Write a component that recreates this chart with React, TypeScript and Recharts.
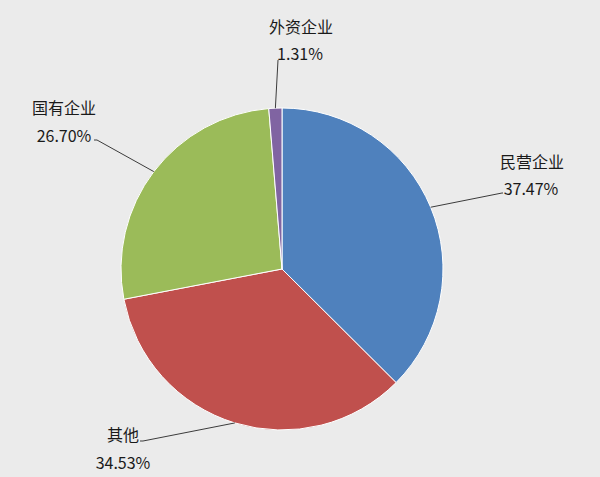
import { PieChart, Pie, Cell } from 'recharts';

document.body.style.margin = '0';

const names = ['民营企业', '其他', '国有企业', '外资企业'];
const shares = [37.47, 34.53, 26.7, 1.31];
const colors = ['#4F81BD', '#C0504D', '#9BBB59', '#8064A2'];

const data = names.map((name, i) => ({ name, value: shares[i] }));

// where Excel put each label: text centres and the bend of the leader line
const labelLayout = [
  { nameAt: [532, 161], pctAt: [531, 188], bend: [[503, 193], [502, 193]] },
  { nameAt: [123, 434], pctAt: [123, 462], bend: [[140, 441], [143, 441]] },
  { nameAt: [64, 107], pctAt: [64, 135], bend: [[94, 140], [97, 140]] },
  { nameAt: [301, 26], pctAt: [300, 53], bend: [[278, 60], [278, 60]] },
];

const RAD = Math.PI / 180;

function renderLabel(props: any) {
  const { cx, cy, midAngle, outerRadius, index } = props;
  const layout = labelLayout[index];
  const sx = cx + outerRadius * Math.cos(-midAngle * RAD);
  const sy = cy + outerRadius * Math.sin(-midAngle * RAD);
  const pts = [[sx, sy], layout.bend[1], layout.bend[0]]
    .map((p) => p.join(','))
    .join(' ');
  return (
    <g key={`label-${index}`}>
      <polyline points={pts} fill="none" stroke="#3c3c3c" strokeWidth={1} />
      <text
        x={layout.nameAt[0]}
        y={layout.nameAt[1]}
        textAnchor="middle"
        dominantBaseline="central"
        fill="#1a1a1a"
        fontSize={16}
      >
        {names[index]}
      </text>
      <text
        x={layout.pctAt[0]}
        y={layout.pctAt[1]}
        textAnchor="middle"
        dominantBaseline="central"
        fill="#1a1a1a"
        fontSize={16}
      >
        {shares[index].toFixed(2)}%
      </text>
    </g>
  );
}

export default function App() {
  return (
    <div style={{ width: 600, height: 477, background: '#EBEBEB', fontFamily: '"Noto Sans CJK SC", "Noto Sans", sans-serif' }}>
      <PieChart width={600} height={477} margin={{ top: 0, right: 0, bottom: 0, left: 0 }}>
        <Pie
          data={data}
          dataKey="value"
          nameKey="name"
          cx={282}
          cy={269}
          outerRadius={161}
          startAngle={90}
          endAngle={-270}
          stroke="#ffffff"
          strokeWidth={1}
          label={renderLabel}
          labelLine={false}
          isAnimationActive={false}
        >
          {data.map((entry, i) => (
            <Cell key={`cell-${i}`} fill={colors[i]} />
          ))}
        </Pie>
      </PieChart>
    </div>
  );
}
